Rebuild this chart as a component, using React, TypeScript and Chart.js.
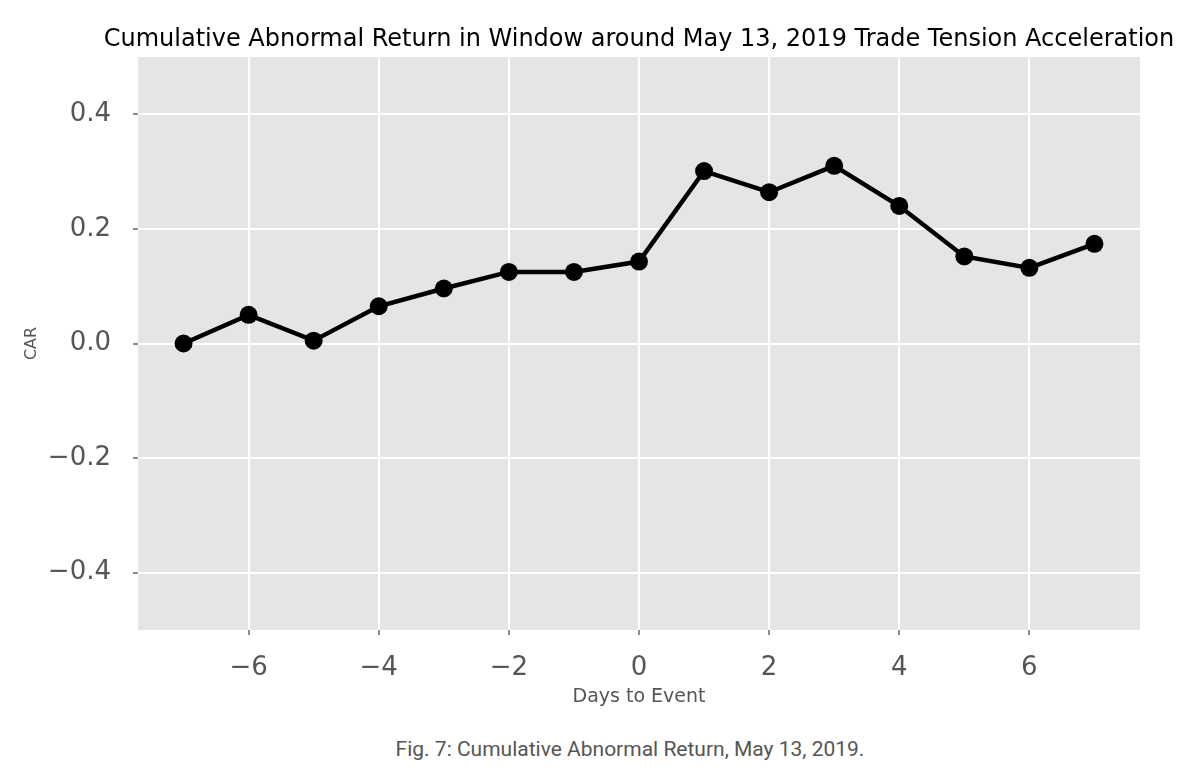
import { useEffect, useRef } from "react";
import { Chart, registerables } from "chart.js";
import type { ChartConfiguration } from "chart.js";

Chart.register(...registerables);

const DAYS = [-7, -6, -5, -4, -3, -2, -1, 0, 1, 2, 3, 4, 5, 6, 7];
const CAR = [0.0, 0.05, 0.005, 0.065, 0.096, 0.125, 0.125, 0.143, 0.301, 0.264, 0.31, 0.24, 0.152, 0.132, 0.174];
const X_TICKS = [-6, -4, -2, 0, 2, 4, 6];
const Y_TICKS = [-0.4, -0.2, 0.0, 0.2, 0.4];
const TITLE = "Cumulative Abnormal Return in Window around May 13, 2019 Trade Tension Acceleration";

const fmt = (v: number, digits: number) => {
  const s = Math.abs(v).toFixed(digits);
  return v < -1e-9 ? "\u2212" + s : s;
};

// grey panel behind the plot + title centred over the panel (matplotlib ggplot look)
const panel = {
  id: "panel",
  beforeDraw(chart: Chart) {
    const { ctx, chartArea } = chart;
    ctx.save();
    ctx.fillStyle = "#e5e5e5";
    ctx.fillRect(chartArea.left, chartArea.top, chartArea.right - chartArea.left, chartArea.bottom - chartArea.top);
    ctx.restore();
  },
  afterDraw(chart: Chart) {
    const { ctx, chartArea } = chart;
    ctx.save();
    ctx.fillStyle = "#000";
    ctx.font = "24px 'DejaVu Sans'";
    ctx.textAlign = "center";
    ctx.textBaseline = "middle";
    ctx.fillText(TITLE, (chartArea.left + chartArea.right) / 2, 40);
    ctx.restore();
  },
};

export default function App() {
  const canvasRef = useRef<HTMLCanvasElement | null>(null);

  useEffect(() => {
    document.body.style.margin = "0";
    const ctx = canvasRef.current!.getContext("2d")!;

    const config: ChartConfiguration<"line", { x: number; y: number }[]> = {
      type: "line",
      data: {
        datasets: [
          {
            label: "CAR",
            data: DAYS.map((d, i) => ({ x: d, y: CAR[i] })),
            borderColor: "#000",
            backgroundColor: "#000",
            borderWidth: 4.5,
            pointRadius: 9,
            pointBorderWidth: 0,
            pointHoverRadius: 9,
            tension: 0,
          },
        ],
      },
      options: {
        responsive: false,
        animation: false,
        layout: { padding: { top: 57, right: 60, bottom: 0, left: 0 } },
        plugins: {
          legend: { display: false },
          tooltip: { enabled: false },
          title: { display: false },
        },
        scales: {
          x: {
            type: "linear",
            min: -7.7,
            max: 7.7,
            afterBuildTicks: (s: any) => {
              s.ticks = X_TICKS.map((v) => ({ value: v }));
            },
            afterFit: (s: any) => {
              s.height = 90;
            },
            grid: { color: "#ffffff", lineWidth: 2, tickColor: "#666", tickLength: 5, tickWidth: 1.5 },
            border: { display: false },
            ticks: {
              color: "#555",
              padding: 18,
              font: { family: "DejaVu Sans", size: 26 },
              callback: (v: any) => fmt(Number(v), 0),
            },
            title: {
              display: true,
              text: "Days to Event",
              color: "#555",
              font: { family: "DejaVu Sans", size: 19 },
              padding: { top: 0, bottom: 12 },
            },
          },
          y: {
            type: "linear",
            min: -0.5,
            max: 0.5,
            afterBuildTicks: (s: any) => {
              s.ticks = Y_TICKS.map((v) => ({ value: v }));
            },
            afterFit: (s: any) => {
              s.width = 138;
            },
            grid: { color: "#ffffff", lineWidth: 2, tickColor: "#666", tickLength: 5, tickWidth: 1.5 },
            border: { display: false },
            ticks: {
              color: "#555",
              padding: 22,
              font: { family: "DejaVu Sans", size: 26 },
              callback: (v: any) => fmt(Number(v), 1),
            },
            title: {
              display: true,
              text: "CAR",
              color: "#555",
              font: { family: "DejaVu Sans", size: 16 },
              padding: { top: 22, bottom: 0 },
            },
          },
        },
      },
      plugins: [panel],
    };

    const chart = new Chart(ctx, config);
    return () => chart.destroy();
  }, []);

  return (
    <div style={{ position: "relative", width: 1200, height: 777, background: "#fff" }}>
      <canvas ref={canvasRef} width={1200} height={720} style={{ display: "block" }} />
      <div
        style={{
          position: "absolute",
          top: 737,
          left: 0,
          width: 1260,
          textAlign: "center",
          fontFamily: "Roboto, 'Noto Sans', sans-serif",
          fontSize: 21,
          color: "#555",
        }}
      >
        Fig. 7: Cumulative Abnormal Return, May 13, 2019.
      </div>
    </div>
  );
}
